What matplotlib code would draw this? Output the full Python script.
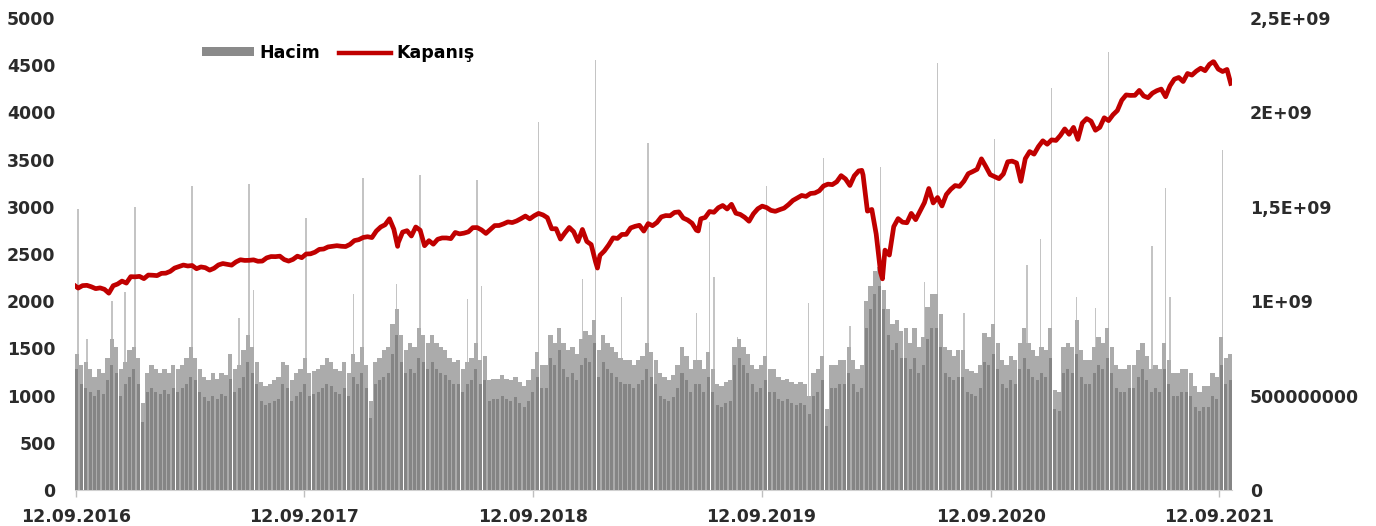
import numpy as np
import pandas as pd
import matplotlib
matplotlib.use("Agg")
from matplotlib import pyplot as plt
from matplotlib.patches import Patch
from matplotlib.lines import Line2D

# weekly closes (friday), 16.09.2016 .. 01.10.2021
close_2016 = [2139, 2165, 2168, 2153, 2133, 2141, 2126, 2085, 2164, 2182, 2213, 2192, 2260, 2258, 2263, 2239]
close_2017 = [2277, 2275, 2271, 2295, 2297, 2316, 2351, 2367, 2383, 2373, 2378, 2344, 2363,
              2355, 2329, 2349, 2384, 2399, 2391, 2382, 2416, 2439, 2432, 2433, 2438, 2423,
              2425, 2459, 2473, 2472, 2477, 2441, 2425, 2443, 2477, 2461, 2500, 2502, 2519,
              2549, 2553, 2575, 2581, 2588, 2582, 2579, 2602, 2642, 2652, 2675, 2683, 2674]
close_2018 = [2743, 2786, 2810, 2873, 2762, 2620, 2732, 2747, 2691, 2786, 2752, 2588, 2641,
              2604, 2656, 2670, 2670, 2663, 2728, 2713, 2721, 2735, 2779, 2780, 2755, 2718,
              2760, 2801, 2802, 2819, 2840, 2833, 2850, 2875, 2902, 2872, 2905, 2930, 2914,
              2885, 2767, 2768, 2658, 2723, 2781, 2736, 2633, 2760, 2633, 2600, 2417, 2486]
close_2019 = [2532, 2596, 2671, 2665, 2707, 2708, 2776, 2793, 2804, 2743, 2822, 2800, 2834,
              2893, 2907, 2905, 2940, 2946, 2881, 2860, 2826, 2752, 2873, 2887, 2950, 2942,
              2990, 3014, 2977, 3026, 2932, 2919, 2889, 2847, 2926, 2979, 3007, 2992, 2962,
              2952, 2970, 2986, 3023, 3067, 3093, 3120, 3110, 3141, 3146, 3169, 3221, 3240]
close_2020 = [3235, 3265, 3330, 3295, 3226, 3328, 3380, 3338, 2954, 2972, 2711, 2305, 2541,
              2489, 2790, 2875, 2837, 2831, 2930, 2864, 2955, 3044, 3194, 3041, 3098, 3009,
              3130, 3185, 3225, 3216, 3271, 3351, 3373, 3397, 3508, 3427, 3341, 3319, 3298,
              3348, 3477, 3484, 3465, 3270, 3510, 3585, 3558, 3638, 3699, 3663, 3709, 3703]
close_2021 = [3756, 3825, 3768, 3841, 3714, 3887, 3934, 3907, 3811, 3842, 3943, 3913, 3975,
              4020, 4129, 4185, 4180, 4181, 4233, 4174, 4156, 4204, 4230, 4247, 4166, 4281,
              4352, 4370, 4327, 4412, 4395, 4437, 4468, 4442, 4509, 4535, 4459, 4433, 4455, 4307]

# a few daily extremes between the weekly points
extra_dates = ["2016-09-12", "2018-02-08", "2018-12-24", "2019-06-03", "2020-02-19", "2020-03-23", "2021-09-02"]
extra_close = [2159, 2581, 2351, 2744, 3386, 2237, 4537]

# weekly volume (millions), typical day, same weeks
vol_2016 = [640, 560, 540, 520, 500, 530, 510, 580, 660, 620, 500, 560, 600, 640, 560, 360]
vol_2017 = [520, 540, 520, 510, 530, 510, 540, 520, 540, 560, 600, 580, 520,
            490, 470, 500, 480, 510, 500, 590, 520, 540, 600, 680, 620, 560,
            470, 450, 460, 470, 480, 560, 540, 470, 500, 520, 560, 500, 510,
            520, 540, 560, 550, 520, 510, 540, 500, 600, 560, 620, 540, 380]
vol_2018 = [560, 580, 600, 620, 720, 820, 680, 620, 640, 620, 700, 680, 640,
            680, 640, 620, 610, 580, 560, 560, 520, 560, 580, 640, 560, 580,
            470, 480, 480, 500, 480, 470, 490, 460, 440, 470, 520, 600, 540,
            540, 700, 660, 740, 640, 600, 620, 580, 660, 700, 680, 780, 600]
vol_2019 = [680, 640, 620, 600, 570, 560, 560, 540, 560, 580, 640, 600, 560,
            500, 480, 470, 490, 540, 620, 580, 520, 560, 560, 520, 600, 520,
            450, 440, 460, 470, 660, 700, 660, 620, 560, 520, 540, 580, 520,
            520, 480, 470, 480, 460, 450, 460, 450, 400, 500, 520, 580, 340]
vol_2020 = [540, 540, 560, 560, 620, 560, 520, 540, 860, 960, 1040, 1080, 960,
            820, 740, 780, 700, 700, 640, 700, 620, 660, 800, 860, 860, 760,
            620, 600, 580, 600, 600, 520, 510, 500, 540, 680, 660, 720, 640,
            560, 540, 580, 560, 640, 700, 640, 600, 580, 620, 600, 700, 430]
vol_2021 = [420, 620, 640, 620, 720, 600, 560, 560, 620, 660, 640, 700, 620,
            540, 520, 520, 540, 540, 600, 640, 580, 520, 540, 520, 640, 560,
            500, 500, 520, 520, 500, 440, 420, 440, 440, 500, 480, 660, 560, 580]

# weekly volume (millions), busiest day of the week
high_2016 = [720, 660, 680, 640, 600, 640, 620, 700, 800, 760, 640, 680, 740, 760, 700, 460]
high_2017 = [620, 660, 640, 620, 640, 620, 660, 640, 660, 700, 760, 700, 640,
             600, 580, 620, 590, 620, 610, 720, 640, 660, 740, 820, 760, 680,
             570, 550, 560, 580, 600, 680, 660, 580, 620, 640, 700, 620, 630,
             640, 660, 700, 680, 640, 630, 680, 620, 720, 680, 760, 660, 470]
high_2018 = [680, 700, 740, 760, 880, 960, 820, 740, 780, 760, 860, 820, 780,
             820, 780, 760, 740, 700, 680, 690, 640, 680, 700, 780, 690, 710,
             580, 590, 590, 610, 590, 580, 600, 570, 550, 580, 640, 730, 660,
             660, 820, 780, 860, 780, 740, 760, 720, 800, 840, 820, 900, 740]
high_2019 = [820, 780, 760, 730, 700, 690, 690, 660, 690, 710, 780, 730, 690,
             620, 600, 580, 610, 660, 760, 710, 640, 690, 690, 640, 730, 640,
             560, 550, 570, 580, 760, 800, 760, 720, 660, 640, 660, 710, 640,
             640, 600, 580, 590, 570, 560, 570, 560, 500, 620, 640, 710, 430]
high_2020 = [660, 660, 690, 690, 760, 690, 640, 660, 1000, 1080, 1160, 1180, 1060,
             960, 880, 900, 840, 860, 780, 860, 760, 810, 970, 1040, 1040, 930,
             760, 740, 710, 740, 740, 640, 630, 620, 660, 830, 810, 880, 780,
             690, 660, 710, 690, 780, 860, 780, 740, 710, 760, 740, 860, 530]
high_2021 = [520, 760, 780, 760, 900, 740, 690, 690, 760, 810, 780, 860, 760,
             660, 640, 640, 660, 660, 740, 780, 710, 640, 660, 640, 780, 690,
             620, 620, 640, 640, 620, 550, 520, 550, 550, 620, 600, 810, 700, 720]

# single-day volume spikes (millions)
spike_dates = ["2016-09-16", "2016-09-30", "2016-11-09", "2016-11-30", "2016-12-16", "2017-03-17",
               "2017-05-31", "2017-06-16", "2017-06-23", "2017-09-15", "2017-11-30", "2017-12-15",
               "2018-02-06", "2018-03-16", "2018-05-31", "2018-06-15", "2018-06-22", "2018-09-21",
               "2018-11-30", "2018-12-21", "2019-01-31", "2019-03-15", "2019-05-31", "2019-06-21",
               "2019-06-28", "2019-08-05", "2019-09-20", "2019-11-26", "2019-12-20", "2020-01-31",
               "2020-03-20", "2020-05-29", "2020-06-19", "2020-07-31", "2020-09-18", "2020-11-09",
               "2020-11-30", "2020-12-18", "2021-01-27", "2021-02-26", "2021-03-19", "2021-05-27",
               "2021-06-18", "2021-06-25", "2021-09-17"]
spike_vol = [1490, 800, 1000, 1050, 1500, 1610,
             910, 1620, 1060, 1440, 1040, 1650,
             1090, 1670, 1010, 1640, 1080, 1950,
             1120, 2280, 1020, 1840, 940, 1420,
             1130, 810, 1610, 990, 1760, 870,
             1710, 1100, 2260, 940, 1860, 1190,
             1330, 2130, 1020, 965, 2320, 1290,
             1600, 1020, 1800]

year_ticks = ["12.09.2016", "12.09.2017", "12.09.2018", "12.09.2019", "12.09.2020", "12.09.2021"]
left_ticks = [0, 500, 1000, 1500, 2000, 2500, 3000, 3500, 4000, 4500, 5000]
right_ticks = [0, 5e8, 1e9, 1.5e9, 2e9, 2.5e9]
right_labels = ["0", "500000000", "1E+09", "1,5E+09", "2E+09", "2,5E+09"]

fridays = pd.date_range("2016-09-16", "2021-10-01", freq="W-FRI")
weekly_close = close_2016 + close_2017 + close_2018 + close_2019 + close_2020 + close_2021
weekly_vol = np.array(vol_2016 + vol_2017 + vol_2018 + vol_2019 + vol_2020 + vol_2021) * 1e6
weekly_high = np.array(high_2016 + high_2017 + high_2018 + high_2019 + high_2020 + high_2021) * 1e6

close = pd.Series(weekly_close, index=fridays)
close = pd.concat([close, pd.Series(extra_close, index=pd.to_datetime(extra_dates))]).sort_index()
close.index = close.index.where(close.index <= pd.Timestamp("2021-09-30"), pd.Timestamp("2021-09-30"))

txt_color = "#2b2b2b"
font = {"family": "DejaVu Sans", "weight": "bold", "size": 12.5}

fig = plt.figure(figsize=(13.76, 5.26), dpi=100)
ax = fig.add_axes([75 / 1376, 1 - 490 / 526, 1157 / 1376, 472 / 526])
axl = ax.twinx()

# volume on the right axis
ax.bar(pd.to_datetime(spike_dates), np.array(spike_vol) * 1e6, width=2.2, color="#c4c4c4", zorder=1)
ax.bar(fridays - pd.Timedelta(days=2), weekly_high, width=6.8, color="#ababab", zorder=2)
ax.bar(fridays - pd.Timedelta(days=2), weekly_vol, width=4.8, color="#858585", zorder=3)
ax.set_ylim(0, 2.5e9)
ax.set_xlim(pd.Timestamp("2016-09-11"), pd.Timestamp("2021-10-02"))
ax.yaxis.tick_right()
ax.set_yticks(right_ticks)
ax.set_yticklabels(right_labels, **font, color=txt_color)
ax.tick_params(axis="y", length=0, pad=13)

tick_dates = pd.to_datetime(year_ticks, format="%d.%m.%Y")
ax.set_xticks(tick_dates)
ax.set_xticklabels(year_ticks, **font, color=txt_color)
ax.tick_params(axis="x", length=5, width=1, color="#bfbfbf", pad=8)
for s in ["top", "left", "right"]:
    ax.spines[s].set_visible(False)
ax.spines["bottom"].set_color("#d0d0d0")

# closing price on the left axis
axl.plot(close.index, close.values, color="#c00000", lw=3.4, solid_joinstyle="round", zorder=3)
axl.set_ylim(0, 5000)
axl.yaxis.tick_left()
axl.set_yticks(left_ticks)
axl.set_yticklabels([str(v) for v in left_ticks], **font, color=txt_color)
axl.tick_params(axis="y", length=0, pad=14)
for s in ["top", "left", "right", "bottom"]:
    axl.spines[s].set_visible(False)

handles = [Patch(facecolor="#8a8a8a", edgecolor="none"),
           Line2D([0], [0], color="#c00000", lw=3.2)]
fig.legend(handles, ["Hacim", "Kapanış"], loc="center left", bbox_to_anchor=(186 / 1376, 1 - 53 / 526),
           ncol=2, frameon=False, handlelength=3.0, handleheight=0.45, handletextpad=0.3,
           columnspacing=1.1, prop={"family": "DejaVu Sans", "weight": "bold", "size": 12.5})

fig.savefig("out.png", dpi=100, facecolor="white")
